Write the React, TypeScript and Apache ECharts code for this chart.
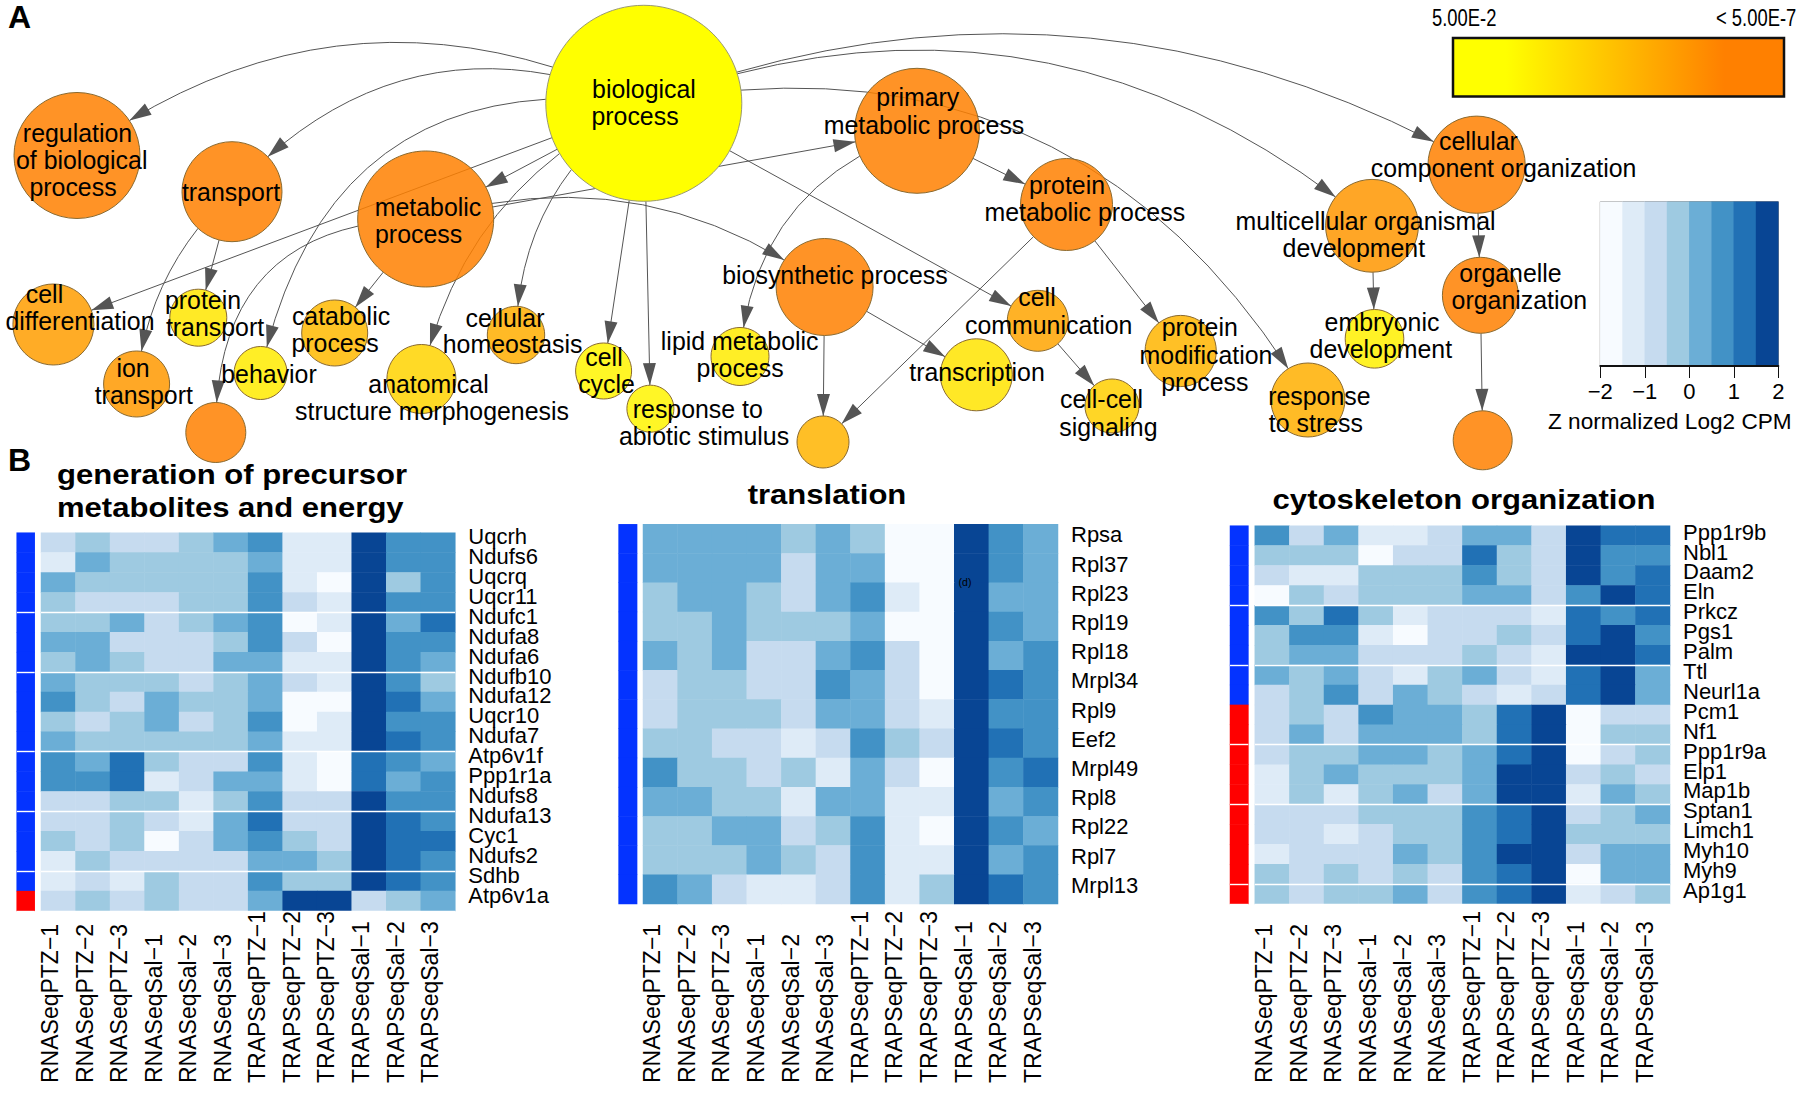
import React, { useEffect, useRef } from "react";
import * as echarts from "echarts";

const FONT = "'Liberation Sans', Arial, sans-serif";

// ---------- network ----------
const nodeNames = ["biological process","regulation of biological process","transport","metabolic process","cell differentiation","protein transport","ion transport","behavior","unlabeled a","catabolic process","anatomical structure morphogenesis","cellular homeostasis","cell cycle","response to abiotic stimulus","lipid metabolic process","biosynthetic process","unlabeled b","primary metabolic process","protein metabolic process","cell communication","transcription","cell-cell signaling","protein modification process","response to stress","multicellular organismal development","embryonic development","cellular component organization","organelle organization","unlabeled c"];
const nodeSignificance = [0,1,1,1,0.76,0.2,0.8,0.16,1,0.54,0.34,0.64,0.09,0.09,0.16,1,0.59,1,1,0.71,0.21,0.38,0.58,0.63,0.83,0.12,1,1,1];
const nodeRadius = [98,63,50,68,40.5,28.5,33,26.5,30,33,34.5,28.7,28,23.5,29,48.5,26,62.5,46,30.5,36,27,35.6,37,46.4,29.3,48.6,38,29.5];
const nodeLayoutX = [643.8,77,232,425.7,53.4,198.3,136.6,260.6,215.8,334.7,421.4,516,603.6,650.4,740,824.6,823,917,1066.5,1037.8,976.3,1112,1180.7,1307.9,1372,1374.5,1476.6,1480.4,1482.7];
const nodeLayoutY = [103.3,155.5,191.7,219,324.5,317.7,384,373,432.5,333,379,335,371,408.7,356.5,287,442,130.8,204.5,320.8,374.8,406,351,400,225.8,338.8,164.7,295.3,440.3];

const edgeList: [number, number, number][] = [
  [0,1,-0.3],[0,2,-0.35],[0,3,0],[0,4,0],[0,7,-0.46],[0,10,-0.25],[0,11,-0.26],[0,12,0],[0,13,0],
  [3,17,0],[3,15,0.25],[3,9,0],[3,8,-0.5],[2,6,-0.19],[2,5,0],[0,19,0],[0,23,0.35],[0,24,0.29],[0,26,0.235],
  [17,18,0],[17,14,-0.33],[15,16,0],[15,20,0],[18,16,0],[18,22,0],[19,21,0],[24,25,0],[26,27,0],[27,28,0],
];

const labelTexts = ["biological","process","regulation","of biological","process","transport","metabolic","process","cell","differentiation","protein","transport","catabolic","process","cellular","homeostasis","ion","transport","behavior","anatomical","structure morphogenesis","cell","cycle","response to","abiotic stimulus","lipid metabolic","process","biosynthetic process","primary","metabolic process","protein","metabolic process","cellular","component organization","multicellular organismal","development","organelle","organization","embryonic","development","cell","communication","protein","modification","process","transcription","cell-cell","signaling","response","to stress"];
const labelX = [644,635,77.5,81.7,73,231,428,418.6,44.5,80,203,215,341,335,505,512.6,133,143.8,269,428.5,432,604,606.5,697.8,704,739.7,740,835,917.8,924,1067,1084.8,1478.4,1503.6,1365.6,1353.8,1510.5,1519.4,1382,1380.8,1037,1048.7,1199.7,1206,1204.8,977,1101.5,1108.4,1319.4,1315.9];
const labelY = [90,117,134,161,188,192.7,208,235,295,322,301,328,316.7,344,318.7,345,369,396,375,385,412,358,385,410,436.7,341.7,369,275.7,98.3,126,186,213.3,141.7,168.7,222.3,249.3,274.3,301.3,322.7,350,298.3,325.7,328.3,355.7,382.7,372.7,400,427.7,397.3,424.3];

// ---------- heatmaps ----------
const sampleLabels = ["RNASeqPTZ−1","RNASeqPTZ−2","RNASeqPTZ−3","RNASeqSal−1","RNASeqSal−2","RNASeqSal−3","TRAPSeqPTZ−1","TRAPSeqPTZ−2","TRAPSeqPTZ−3","TRAPSeqSal−1","TRAPSeqSal−2","TRAPSeqSal−3"];
const binColors = ["#F7FBFF","#DEEBF7","#C6DBEF","#9ECAE1","#6BAED6","#4292C6","#2171B5","#084594"];

const genes1 = ["Uqcrh","Ndufs6","Uqcrq","Uqcr11","Ndufc1","Ndufa8","Ndufa6","Ndufb10","Ndufa12","Uqcr10","Ndufa7","Atp6v1f","Ppp1r1a","Ndufs8","Ndufa13","Cyc1","Ndufs2","Sdhb","Atp6v1a"];
const bins1 = [
  [2,3,2,2,3,4,5,1,1,7,5,5],[1,4,3,3,3,3,4,1,1,7,5,5],[4,3,3,3,3,3,5,1,0,7,3,5],[3,2,2,2,3,3,5,2,1,7,5,5],
  [3,3,4,2,3,4,5,0,1,7,4,6],[4,4,2,2,2,3,5,2,0,7,5,5],[3,4,3,2,2,4,4,1,1,7,5,4],[4,3,3,3,2,3,4,2,1,7,5,3],
  [5,3,2,4,3,3,4,0,0,7,6,4],[3,2,3,4,2,3,5,0,1,7,5,5],[4,3,3,3,3,3,4,1,1,7,6,5],[5,4,6,3,2,2,5,1,0,6,5,4],
  [5,5,6,1,2,4,4,1,0,6,4,5],[2,2,3,3,1,3,5,2,2,7,5,5],[2,2,3,2,1,4,6,2,2,7,6,5],[3,2,3,0,2,4,5,3,2,7,6,6],
  [1,3,2,2,2,2,4,4,3,7,6,5],[1,2,1,3,2,2,5,3,3,7,6,5],[2,3,2,3,2,2,4,7,7,2,3,4],
];
const groups1 = [0,0,0,0,0,0,0,0,0,0,0,0,0,0,0,0,0,0,1];
const breaks1 = [3,6,10,13,16];

const genes2 = ["Rpsa","Rpl37","Rpl23","Rpl19","Rpl18","Mrpl34","Rpl9","Eef2","Mrpl49","Rpl8","Rpl22","Rpl7","Mrpl13"];
const bins2 = [
  [4,4,4,4,3,4,3,0,0,7,5,4],[4,4,4,4,2,4,4,0,0,7,5,4],[3,4,4,3,2,4,5,1,0,7,4,4],[3,3,4,3,3,3,4,0,0,7,5,4],
  [4,3,4,2,2,4,5,2,0,7,4,5],[2,3,3,2,2,5,4,2,0,7,6,5],[2,3,3,3,2,4,4,2,1,7,5,5],[3,3,2,2,1,2,5,3,2,7,6,5],
  [5,3,3,2,3,1,4,2,0,7,5,6],[4,4,3,3,1,4,4,1,1,7,4,5],[3,3,4,4,2,3,5,1,0,7,5,4],[3,3,3,4,3,2,5,1,1,7,4,5],
  [5,4,2,1,1,2,5,1,3,7,6,5],
];
const groups2 = [0,0,0,0,0,0,0,0,0,0,0,0,0];
const breaks2: number[] = [];

const genes3 = ["Ppp1r9b","Nbl1","Daam2","Eln","Prkcz","Pgs1","Palm","Ttl","Neurl1a","Pcm1","Nf1","Ppp1r9a","Elp1","Map1b","Sptan1","Limch1","Myh10","Myh9","Ap1g1"];
const bins3 = [
  [5,2,4,1,1,2,4,4,2,7,6,6],[3,3,3,0,2,2,6,3,2,7,5,5],[2,1,1,3,3,3,5,3,2,7,5,6],[0,3,2,3,3,3,4,4,2,5,7,6],
  [5,3,6,3,1,2,2,2,1,6,5,6],[3,5,5,1,0,2,2,3,2,6,7,5],[3,4,4,2,2,2,3,2,1,7,7,6],[4,3,4,2,1,3,4,2,1,6,7,4],
  [2,3,5,2,4,3,2,1,2,6,7,4],[2,3,2,5,4,4,3,6,7,0,2,2],[2,4,2,4,4,4,3,6,7,0,3,3],[2,3,3,4,4,3,4,6,7,0,2,3],
  [1,3,4,3,3,3,4,7,7,2,3,2],[1,3,1,3,4,2,4,7,7,1,4,3],[2,2,2,3,3,3,5,6,7,2,3,4],[2,2,1,2,3,3,5,6,7,3,3,3],
  [1,2,2,2,4,3,5,7,7,2,4,4],[3,2,3,2,3,2,5,6,7,0,4,4],[3,2,3,3,4,2,5,6,7,1,2,3],
];
const groups3 = [0,0,0,0,0,0,0,0,0,1,1,1,1,1,1,1,1,1,1];
const breaks3 = [3,6,10,13,17];

const keyTicks = [-2, 2];

function lerpNodeColor(t: number) {
  const g = Math.round(255 - 127 * t);
  return `rgba(255,${g},0,0.85)`;
}

function buildOption() {
  const grid: any[] = [{ left: 0, top: 0, width: 1800, height: 1093 }];
  const xAxis: any[] = [{ type: "value", gridIndex: 0, min: 0, max: 1800, show: false }];
  const yAxis: any[] = [{ type: "value", gridIndex: 0, min: 0, max: 1093, inverse: true, show: false }];
  const series: any[] = [];
  const heatIdx: number[] = [];
  const sideIdx: number[] = [];

  // graph
  series.push({
    type: "graph", coordinateSystem: "cartesian2d", xAxisIndex: 0, yAxisIndex: 0, silent: true, z: 2,
    edgeSymbol: ["circle", "path://M-5.5 18 L0 0 L5.5 18 Z M0 -18 L0 -18 Z"],
    edgeSymbolSize: [0.01, [13, 44]],
    lineStyle: { color: "#555", width: 1, opacity: 1 },
    label: { show: false },
    data: nodeNames.map((name, i) => ({
      name, value: [nodeLayoutX[i], nodeLayoutY[i]], symbol: "circle", symbolSize: nodeRadius[i] * 2,
      itemStyle: {
        color: i === 0 ? "#ffff00" : lerpNodeColor(nodeSignificance[i]), opacity: 1,
        borderColor: i === 0 ? "#9a9a70" : "#8a6a30", borderWidth: 1,
      },
    })),
    links: edgeList.map(([s, t, c]) => ({ source: nodeNames[s], target: nodeNames[t], lineStyle: { curveness: c } })),
  });
  // node captions
  series.push({
    type: "scatter", coordinateSystem: "cartesian2d", xAxisIndex: 0, yAxisIndex: 0, silent: true, z: 6,
    symbolSize: 1, itemStyle: { color: "rgba(0,0,0,0)", opacity: 1 },
    label: { show: true, position: "inside", offset: [0, -1], formatter: "{b}", fontSize: 24.9, fontFamily: FONT, color: "#000", opacity: 1, textBorderWidth: 0 },
    data: labelTexts.map((name, i) => ({ name, value: [labelX[i], labelY[i]] })),
  });

  const panel = (genes: string[], bins: number[][], groups: number[], breaks: number[], sideL: number, sideW: number, heatL: number, heatW: number, top: number, h: number, yShift: number) => {
    const splitAt = (i: number) => breaks.includes(i - 1);
    const split = { show: breaks.length > 0, interval: (i: number) => splitAt(i), lineStyle: { color: "#fff", width: 1.4 } };
    // side bar
    let gi = grid.length;
    grid.push({ left: sideL, top, width: sideW, height: h });
    xAxis.push({ type: "category", gridIndex: gi, data: ["group"], show: false });
    yAxis.push({ type: "category", gridIndex: gi, data: genes, inverse: true, z: 5, axisLine: { show: false }, axisTick: { show: false }, axisLabel: { show: false }, splitLine: split });
    sideIdx.push(series.length);
    series.push({
      type: "heatmap", xAxisIndex: xAxis.length - 1, yAxisIndex: yAxis.length - 1, silent: true,
      data: groups.map((g, r) => [0, r, g]),
    });
    // heat
    gi = grid.length;
    grid.push({ left: heatL, top, width: heatW, height: h });
    xAxis.push({
      type: "category", gridIndex: gi, data: sampleLabels, axisLine: { show: false }, axisTick: { show: false },
      axisLabel: { interval: 0, rotate: 90, margin: 1083 - (top + h), align: "left", verticalAlign: "bottom", lineHeight: 16, fontSize: 23, fontFamily: FONT, color: "#000" },
    });
    yAxis.push({
      type: "category", gridIndex: gi, data: genes, inverse: true, position: "right", z: 5, axisLine: { show: false }, axisTick: { show: false },
      axisLabel: { interval: 0, margin: 13, fontSize: 22, fontFamily: FONT, color: "#000", verticalAlign: "bottom", lineHeight: yShift * 2 }, splitLine: split,
    });
    const data: number[][] = [];
    bins.forEach((row, r) => row.forEach((b, c) => data.push([c, r, b])));
    heatIdx.push(series.length);
    series.push({ type: "heatmap", xAxisIndex: xAxis.length - 1, yAxisIndex: yAxis.length - 1, silent: true, data });
  };
  panel(genes1, bins1, groups1, breaks1, 16.7, 18, 41, 414.3, 532.7, 378.3, 6);
  panel(genes2, bins2, groups2, breaks2, 618.6, 18.5, 643, 415, 524.3, 379.7, 4);
  panel(genes3, bins3, groups3, breaks3, 1230, 18.4, 1254.8, 415.2, 525.7, 378.3, 3.5);

  // colour key
  const kg = grid.length;
  grid.push({ left: 1600.3, top: 201.7, width: 178, height: 164.3, show: true, borderColor: "#777", borderWidth: 1, backgroundColor: "transparent" });
  xAxis.push({ type: "category", gridIndex: kg, data: binColors.map((_, i) => String(i)), show: false });
  const keyCatX = xAxis.length - 1;
  xAxis.push({
    type: "value", gridIndex: kg, min: keyTicks[0], max: keyTicks[1], interval: 1, position: "bottom", z: 5,
    axisLine: { show: true, lineStyle: { color: "#111", width: 2 } }, axisTick: { show: true, length: 12, lineStyle: { color: "#111" } }, splitLine: { show: false },
    axisLabel: { fontSize: 22, fontFamily: FONT, color: "#000", margin: 14, showMinLabel: true, showMaxLabel: true, formatter: (v: number) => String(v).replace("-", "−") },
  });
  yAxis.push({ type: "category", gridIndex: kg, data: ["z"], show: false });
  heatIdx.push(series.length);
  series.push({
    type: "heatmap", xAxisIndex: keyCatX, yAxisIndex: yAxis.length - 1, silent: true,
    data: binColors.map((_, i) => [i, 0, i]),
  });

  const txt = (text: string, x: number, y: number, fontSize: number, extra: any = {}, style: any = {}) => ({
    type: "text", x, y, z: 20, silent: true, ...extra,
    style: { text, fontSize, fontFamily: FONT, fill: "#000", align: "left", verticalAlign: "middle", ...style },
  });

  const graphic: any[] = [
    { type: "rect", x: 1453, y: 38, z: 10, silent: true, shape: { width: 331, height: 58.5 },
      style: { stroke: "#111", lineWidth: 2.5, fill: new echarts.graphic.LinearGradient(0, 0, 1, 0, [
        { offset: 0, color: "#FFFF00" }, { offset: 0.16, color: "#FFFF00" }, { offset: 0.82, color: "#FF8000" }, { offset: 1, color: "#FF8000" },
      ]) } },
    txt("5.00E-2", 1432, 17.5, 23, { scaleX: 0.8 }),
    txt("< 5.00E-7", 1716, 17.5, 23, { scaleX: 0.8 }),
    txt("Z normalized Log2 CPM", 1669.8, 421.7, 22.6, {}, { align: "center" }),
    txt("A", 8, 16.5, 32, {}, { fontWeight: "bold" }),
    txt("B", 8, 460, 32, {}, { fontWeight: "bold" }),
    txt("generation of precursor", 57, 475, 27, { scaleX: 1.15 }, { fontWeight: "bold" }),
    txt("metabolites and energy", 57, 508, 27, { scaleX: 1.15 }, { fontWeight: "bold" }),
    txt("translation", 827, 495, 27, { scaleX: 1.15 }, { fontWeight: "bold", align: "center" }),
    txt("cytoskeleton organization", 1464, 500, 27, { scaleX: 1.15 }, { fontWeight: "bold", align: "center" }),
    txt("(d)", 965, 581.7, 10.5, {}, { align: "center" }),
  ];

  const visualMap: any[] = [
    { type: "piecewise", show: false, dimension: 2, seriesIndex: heatIdx, pieces: binColors.map((color, i) => ({ value: i, color })) },
    { type: "piecewise", show: false, dimension: 2, seriesIndex: sideIdx, pieces: [{ value: 0, color: "#0433FF" }, { value: 1, color: "#FF0000" }] },
  ];

  return {
    animation: false, backgroundColor: "#fff",
    textStyle: { fontFamily: FONT },
    grid, xAxis, yAxis, series, graphic, visualMap,
  };
}

export default function App() {
  const ref = useRef<HTMLDivElement>(null);
  useEffect(() => {
    const chart = echarts.init(ref.current!, null, { renderer: "svg" });
    chart.setOption(buildOption() as any);
    return () => chart.dispose();
  }, []);
  return <div ref={ref} style={{ position: "absolute", left: 0, top: 0, width: 1800, height: 1093 }} />;
}
